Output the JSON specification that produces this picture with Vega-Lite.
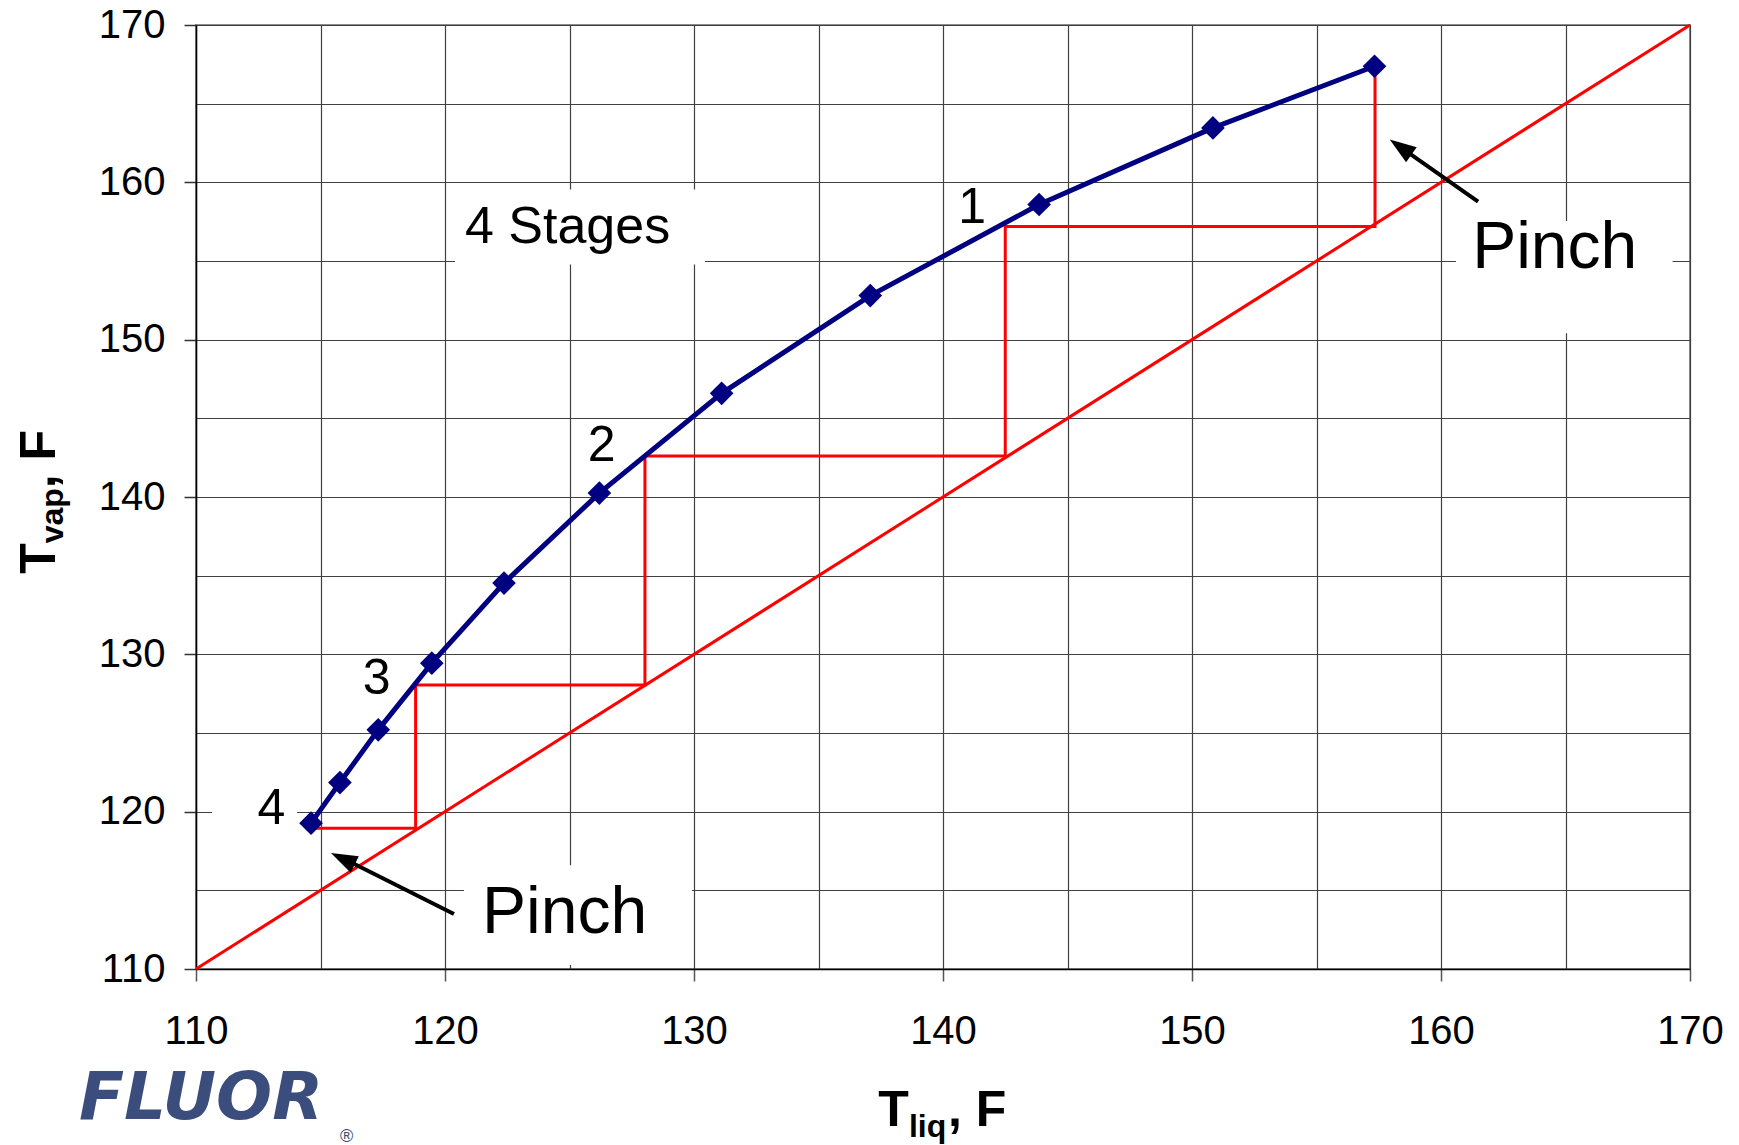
{
  "$schema": "https://vega.github.io/schema/vega-lite/v6.json",
  "autosize": {"type": "none"},
  "width": 1494,
  "height": 944,
  "padding": {"left": 196, "top": 25, "right": 49, "bottom": 176},
  "background": "white",
  "config": {
    "font": "Liberation Sans",
    "view": {"stroke": "#8c8c8c", "strokeWidth": 2},
    "text": {"font": "Liberation Sans", "color": "black"}
  },
  "encoding": {
    "x": {
      "field": "x", "type": "quantitative",
      "scale": {"domain": [110, 170], "nice": false, "zero": false},
      "axis": {
        "title": null,
        "values": [110, 115, 120, 125, 130, 135, 140, 145, 150, 155, 160, 165, 170],
        "labelExpr": "datum.value % 10 === 0 ? datum.label : ''",
        "labelFont": "Liberation Sans", "labelFontSize": 40, "labelColor": "black",
        "labelPadding": 30, "labelFlush": false, "labelOverlap": false,
        "tickSize": 12, "tickColor": "#555555", "tickWidth": 1.5,
        "tickOpacity": {"condition": {"test": "datum.value % 10 !== 0", "value": 0}, "value": 1},
        "domainColor": "black", "domainWidth": 1.5,
        "grid": true, "gridColor": "#404040", "gridWidth": 1.2, "gridOpacity": 1
      }
    },
    "y": {
      "field": "y", "type": "quantitative",
      "scale": {"domain": [110, 170], "nice": false, "zero": false},
      "axis": {
        "title": null,
        "values": [110, 115, 120, 125, 130, 135, 140, 145, 150, 155, 160, 165, 170],
        "labelExpr": "datum.value % 10 === 0 ? datum.label : ''",
        "labelFont": "Liberation Sans", "labelFontSize": 40, "labelColor": "black",
        "labelPadding": 19, "labelFlush": false, "labelOverlap": false,
        "tickSize": 12, "tickColor": "#333333", "tickWidth": 1.5,
        "tickOpacity": {"condition": {"test": "datum.value % 10 !== 0", "value": 0}, "value": 1},
        "domainColor": "black", "domainWidth": 1.5,
        "grid": true, "gridColor": "#404040", "gridWidth": 1.2, "gridOpacity": 1
      }
    }
  },
  "layer": [
    {
      "data": {"values": [
        {"x": 120.4, "x2": 130.44, "y": 154.77, "y2": 159.54},
        {"x": 160.6, "x2": 169.3, "y": 150.4, "y2": 157.55},
        {"x": 120.76, "x2": 129.92, "y": 110.25, "y2": 116.6},
        {"x": 110.64, "x2": 114.06, "y": 118.2, "y2": 122.0}
      ]},
      "mark": {"type": "rect", "fill": "white", "stroke": null},
      "encoding": {"x2": {"field": "x2"}, "y2": {"field": "y2"}}
    },
    {
      "data": {"values": [{"x": 110, "y": 110}, {"x": 170, "y": 170}]},
      "mark": {"type": "line", "color": "#ff0000", "strokeWidth": 3}
    },
    {
      "data": {"values": [
        {"i": 0, "x": 157.35, "y": 167.35},
        {"i": 1, "x": 157.35, "y": 157.2},
        {"i": 2, "x": 142.5, "y": 157.2},
        {"i": 3, "x": 142.5, "y": 142.6},
        {"i": 4, "x": 128.03, "y": 142.6},
        {"i": 5, "x": 128.03, "y": 128.05},
        {"i": 6, "x": 118.82, "y": 128.05},
        {"i": 7, "x": 118.82, "y": 118.95},
        {"i": 8, "x": 114.5, "y": 118.95}
      ]},
      "mark": {"type": "line", "color": "#ff0000", "strokeWidth": 3},
      "encoding": {"order": {"field": "i", "type": "quantitative"}}
    },
    {
      "data": {"name": "curve", "values": [
        {"x": 114.62, "y": 119.27},
        {"x": 115.78, "y": 121.85},
        {"x": 117.32, "y": 125.2},
        {"x": 119.47, "y": 129.44},
        {"x": 122.37, "y": 134.53},
        {"x": 126.2, "y": 140.25},
        {"x": 131.11, "y": 146.59},
        {"x": 137.08, "y": 152.8},
        {"x": 143.86, "y": 158.59},
        {"x": 150.84, "y": 163.46},
        {"x": 157.33, "y": 167.38}
      ]},
      "layer": [
        {"mark": {"type": "line", "color": "#000080", "strokeWidth": 5}},
        {"mark": {"type": "point", "shape": "diamond", "filled": true, "color": "#000080", "opacity": 1, "size": 560}}
      ]
    },
    {
      "data": {"values": [
        {"arrow": "upper", "x": 161.49, "y": 158.78},
        {"arrow": "upper", "x": 158.5, "y": 162.1},
        {"arrow": "lower", "x": 120.36, "y": 113.5},
        {"arrow": "lower", "x": 116.2, "y": 116.8}
      ]},
      "mark": {"type": "line", "color": "black", "strokeWidth": 4},
      "encoding": {"detail": {"field": "arrow"}}
    },
    {
      "data": {"values": [{"x": 157.94, "y": 162.72}]},
      "mark": {"type": "point", "shape": "M0,0L0.7,2L-0.7,2Z", "filled": true, "color": "black", "opacity": 1, "size": 700, "angle": 305}
    },
    {
      "data": {"values": [{"x": 115.42, "y": 117.38}]},
      "mark": {"type": "point", "shape": "M0,0L0.7,2L-0.7,2Z", "filled": true, "color": "black", "opacity": 1, "size": 700, "angle": 296}
    },
    {
      "data": {"values": [
        {"x": 141.17, "y": 157.44, "t": "1"},
        {"x": 126.29, "y": 142.3, "t": "2"},
        {"x": 117.26, "y": 127.49, "t": "3"},
        {"x": 113.03, "y": 119.22, "t": "4"}
      ]},
      "mark": {"type": "text", "fontSize": 50, "align": "center", "baseline": "alphabetic"},
      "encoding": {"text": {"field": "t"}}
    },
    {
      "data": {"values": [{"x": 120.8, "y": 156.17, "t": "4 Stages"}]},
      "mark": {"type": "text", "fontSize": 52, "align": "left", "baseline": "alphabetic"},
      "encoding": {"text": {"field": "t"}}
    },
    {
      "data": {"values": [
        {"x": 161.25, "y": 154.58, "t": "Pinch"},
        {"x": 121.49, "y": 112.29, "t": "Pinch"}
      ]},
      "mark": {"type": "text", "fontSize": 66, "align": "left", "baseline": "alphabetic"},
      "encoding": {"text": {"field": "t"}}
    },
    {
      "data": {"values": [{"x": 138.63, "y": 100, "t": "T"}]},
      "mark": {"type": "text", "fontSize": 50, "fontWeight": "bold", "align": "right", "baseline": "alphabetic"},
      "encoding": {"text": {"field": "t"}}
    },
    {
      "data": {"values": [{"x": 138.63, "y": 99.3, "t": "liq"}]},
      "mark": {"type": "text", "fontSize": 32, "fontWeight": "bold", "align": "left", "baseline": "alphabetic"},
      "encoding": {"text": {"field": "t"}}
    },
    {
      "data": {"values": [{"x": 140.2, "y": 100, "t": ", F"}]},
      "mark": {"type": "text", "fontSize": 50, "fontWeight": "bold", "align": "left", "baseline": "alphabetic"},
      "encoding": {"text": {"field": "t"}}
    },
    {
      "data": {"values": [{"x": 104.34, "y": 135.12, "t": "T"}, {"x": 104.34, "y": 140.56, "t": ", F"}]},
      "mark": {"type": "text", "fontSize": 50, "fontWeight": "bold", "align": "left", "baseline": "alphabetic", "angle": 270},
      "encoding": {"text": {"field": "t"}}
    },
    {
      "data": {"values": [{"x": 104.66, "y": 137.06, "t": "vap"}]},
      "mark": {"type": "text", "fontSize": 32, "fontWeight": "bold", "align": "left", "baseline": "alphabetic", "angle": 270},
      "encoding": {"text": {"field": "t"}}
    },
    {
      "data": {"values": [{"x": 105.3, "y": 100.46, "t": "FLUOR"}]},
      "mark": {"type": "text", "font": "DejaVu Sans", "fontSize": 66, "fontWeight": "bold", "fontStyle": "italic", "align": "left", "baseline": "alphabetic", "color": "#3a4d7c"},
      "encoding": {"text": {"field": "t"}}
    },
    {
      "data": {"values": [{"x": 115.78, "y": 99.0, "t": "®"}]},
      "mark": {"type": "text", "fontSize": 18, "align": "left", "baseline": "alphabetic", "color": "#3a4d7c"},
      "encoding": {"text": {"field": "t"}}
    }
  ]
}
